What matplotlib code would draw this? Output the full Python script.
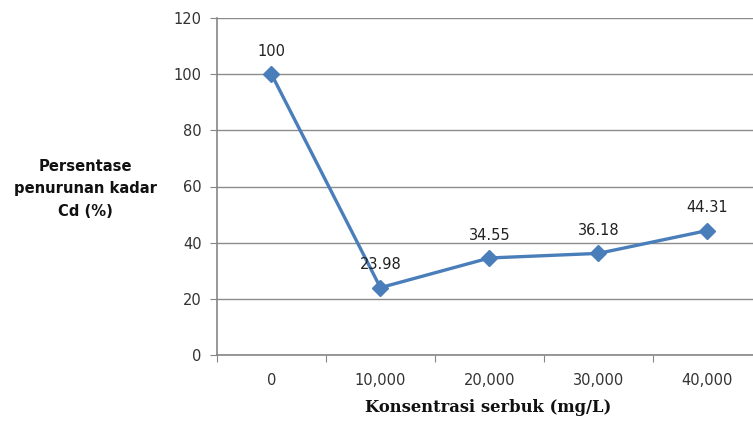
import matplotlib
matplotlib.use("Agg")
import matplotlib.pyplot as plt

categories = ["0", "10,000", "20,000", "30,000", "40,000"]
values = [100, 23.98, 34.55, 36.18, 44.31]
labels = ["100", "23.98", "34.55", "36.18", "44.31"]
yticks = [0, 20, 40, 60, 80, 100, 120]

W, H = 753, 421
fig = plt.figure(figsize=(W/100, H/100), dpi=100)
L, R, T, B = 217, 753, 18, 355
ax = fig.add_axes([L/W, (H-B)/H, (R-L)/W, (B-T)/H])

x = list(range(len(categories)))
ax.plot(x, values, color="#4A7EBB", lw=2.4, marker="D", ms=8, mfc="#4A7EBB", mec="#4A7EBB", zorder=3)
for xi, v, t in zip(x, values, labels):
    ax.annotate(t, (xi, v), xytext=(0, 11), textcoords="offset points", ha="center", va="bottom",
                fontsize=10.5, color="#222222", family="DejaVu Sans")

ax.set_xlim(-0.5, 4.42)
ax.set_ylim(0, 120)
ax.set_yticks(yticks)
ax.set_yticklabels([str(v) for v in yticks], fontsize=10.5, color="#333333")
ax.set_xticks([i + 0.5 for i in range(-1, 4)])
ax.set_xticklabels([])
ax.set_xticks(x, minor=True)
ax.set_xticklabels(categories, minor=True, fontsize=10.5, color="#333333")
ax.tick_params(axis="x", which="minor", length=0, pad=13)
ax.tick_params(axis="x", which="major", length=5, color="#868686", direction="out")
ax.tick_params(axis="y", length=5, color="#868686", direction="out", pad=6)
ax.grid(axis="y", color="#8C8C8C", lw=1)
ax.set_axisbelow(True)
for s in ["top", "right"]:
    ax.spines[s].set_visible(False)
for s in ["left", "bottom"]:
    ax.spines[s].set_color("#868686")
    ax.spines[s].set_linewidth(1.2)

fig.text(85/W, 1 - 189/H, "Persentase\npenurunan kadar\nCd (%)", ha="center", va="center",
         fontsize=10.6, fontweight="bold", linespacing=1.65, color="#111111")
fig.text(488/W, 1 - 408/H, "Konsentrasi serbuk (mg/L)", ha="center", va="center",
         fontsize=11.8, fontweight="bold", family="DejaVu Serif", color="#111111")

fig.savefig("out.png", dpi=100)
